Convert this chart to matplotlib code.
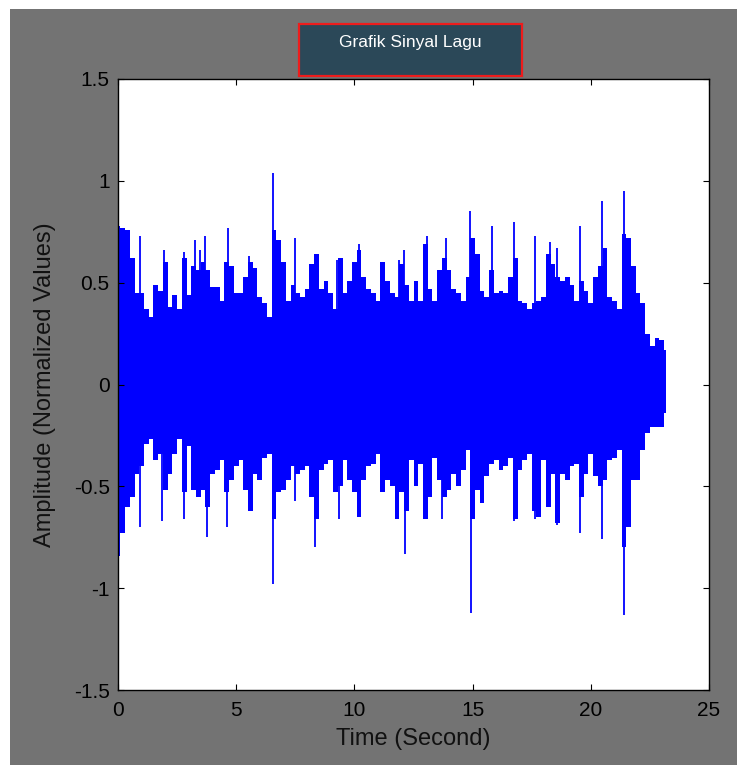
# Grafik Sinyal Lagu - waveform envelope recreated from the screenshot

import numpy as np
import matplotlib
matplotlib.use("Agg")
import matplotlib.pyplot as plt
from matplotlib.patches import Rectangle

plt.rcParams["font.family"] = ["Liberation Sans", "DejaVu Sans"]
plt.rcParams["axes.unicode_minus"] = False

t_body = np.round(np.arange(0, 23.21, 0.2), 1)
upper = [0.78, 0.77, 0.76, 0.62, 0.45, 0.45, 0.37, 0.33, 0.49, 0.46,
         0.60, 0.38, 0.44, 0.37, 0.62, 0.44, 0.58, 0.56, 0.60, 0.56,
         0.48, 0.48, 0.41, 0.60, 0.58, 0.45, 0.45, 0.53, 0.60, 0.57,
         0.43, 0.40, 0.33, 0.76, 0.71, 0.60, 0.41, 0.49, 0.45, 0.43,
         0.47, 0.59, 0.64, 0.47, 0.51, 0.45, 0.37, 0.62, 0.45, 0.51,
         0.60, 0.66, 0.53, 0.47, 0.45, 0.41, 0.60, 0.51, 0.45,
         0.43, 0.59, 0.49, 0.41, 0.51, 0.41, 0.69, 0.47, 0.41, 0.56,
         0.62, 0.56, 0.47, 0.45, 0.41, 0.53, 0.72, 0.64, 0.46, 0.43,
         0.56, 0.45, 0.46, 0.45, 0.53, 0.62, 0.41, 0.40, 0.37, 0.40,
         0.41, 0.43, 0.64, 0.59, 0.53, 0.51, 0.53, 0.49, 0.41, 0.51,
         0.46, 0.40, 0.53, 0.58, 0.67, 0.43, 0.41, 0.37, 0.74, 0.72,
         0.58, 0.45, 0.40, 0.25, 0.19, 0.23, 0.22, 0.17]
lower = [-0.84, -0.73, -0.60, -0.55, -0.44, -0.40, -0.29, -0.27, -0.37, -0.34,
         -0.52, -0.44, -0.34, -0.27, -0.53, -0.30, -0.52, -0.55, -0.52, -0.60,
         -0.44, -0.42, -0.37, -0.53, -0.47, -0.40, -0.37, -0.52, -0.62, -0.44,
         -0.47, -0.36, -0.34, -0.66, -0.53, -0.52, -0.47, -0.40, -0.44, -0.42,
         -0.40, -0.55, -0.66, -0.42, -0.39, -0.37, -0.53, -0.50, -0.37, -0.47,
         -0.53, -0.65, -0.47, -0.40, -0.39, -0.34, -0.53, -0.47, -0.50,
         -0.66, -0.53, -0.62, -0.37, -0.50, -0.39, -0.66, -0.55, -0.36, -0.47,
         -0.55, -0.52, -0.44, -0.50, -0.42, -0.32, -0.66, -0.52, -0.58, -0.45,
         -0.39, -0.37, -0.42, -0.40, -0.36, -0.66, -0.42, -0.37, -0.34, -0.62,
         -0.65, -0.37, -0.60, -0.44, -0.68, -0.44, -0.47, -0.40, -0.39, -0.55,
         -0.44, -0.34, -0.45, -0.50, -0.47, -0.37, -0.36, -0.32, -0.80, -0.70,
         -0.47, -0.47, -0.32, -0.24, -0.21, -0.21, -0.21, -0.14]

# single-sample peaks sticking out of the body
up_spike_t = [0.0, 0.92, 1.96, 2.78, 3.27, 3.48, 3.70, 4.65, 5.53, 6.54, 7.48,
              9.28, 10.21, 11.87, 12.08, 13.05, 13.88, 14.87, 15.80, 16.74,
              17.65, 18.29, 18.56, 19.54, 20.49, 21.41]
up_spike_v = [0.94, 0.73, 0.66, 0.65, 0.71, 0.66, 0.73, 0.77, 0.63, 1.04, 0.72,
              0.61, 0.69, 0.61, 0.66, 0.73, 0.72, 0.85, 0.78, 0.80,
              0.73, 0.70, 0.67, 0.78, 0.90, 0.95]
lo_spike_t = [0.0, 0.95, 1.86, 2.78, 3.77, 4.61, 6.54, 7.48, 8.32, 9.34, 12.15,
              13.72, 14.93, 16.74, 17.65, 18.56, 19.54, 20.49, 21.41]
lo_spike_v = [-0.97, -0.70, -0.67, -0.66, -0.75, -0.70, -0.98, -0.57, -0.80, -0.66,
              -0.83, -0.66, -1.12, -0.67, -0.66, -0.69, -0.73, -0.76, -1.13]

xticks = [0, 5, 10, 15, 20, 25]
yticks = [-1.5, -1, -0.5, 0, 0.5, 1, 1.5]
ytick_labels = ["-1.5", "-1", "-0.5", "0", "0.5", "1", "1.5"]

fig = plt.figure(figsize=(7.37, 7.68), dpi=100, facecolor="white")

# gray figure panel (thin white margin at top/left like the screenshot)
fig.patches.append(Rectangle((10 / 737, 3 / 768), 1, 756 / 768,
                             transform=fig.transFigure, facecolor="#737373",
                             edgecolor="none", zorder=-5))

ax = fig.add_axes([118 / 737, 78 / 768, 591 / 737, 611 / 768])
ax.set_facecolor("white")

ax.fill_between(t_body, lower, upper, step="mid", color="#0000ff", lw=0)
ax.vlines(up_spike_t, 0, up_spike_v, color="#0000ff", lw=1.3)
ax.vlines(lo_spike_t, lo_spike_v, 0, color="#0000ff", lw=1.3)

ax.set_xlim(0, 25)
ax.set_ylim(-1.5, 1.5)
ax.set_xticks(xticks)
ax.set_xticklabels([str(x) for x in xticks])
ax.set_yticks(yticks)
ax.set_yticklabels(ytick_labels)
ax.tick_params(direction="in", length=4.5, width=0.8, top=True, right=True,
               labelsize=15, colors="black")
ax.tick_params(axis="x", pad=8)
ax.tick_params(axis="y", pad=6)
for s in ax.spines.values():
    s.set_linewidth(1.0)
    s.set_color("black")

ax.set_xlabel("Time (Second)", fontsize=17, color="#111111", labelpad=6)
ax.set_ylabel("Amplitude (Normalized Values)", fontsize=17, color="#111111",
              labelpad=13)

# title box
fig.patches.append(Rectangle((299 / 737, (768 - 76) / 768), 223 / 737, 52 / 768,
                             transform=fig.transFigure, facecolor="#2b4858",
                             edgecolor="#ee1c1c", lw=1.6, zorder=5))
fig.text(410 / 737, 1 - 42 / 768, "Grafik Sinyal Lagu", color="white",
         fontsize=12.5, ha="center", va="center", zorder=6)

fig.savefig("out.png", dpi=100, facecolor=fig.get_facecolor())
print("saved out.png")
